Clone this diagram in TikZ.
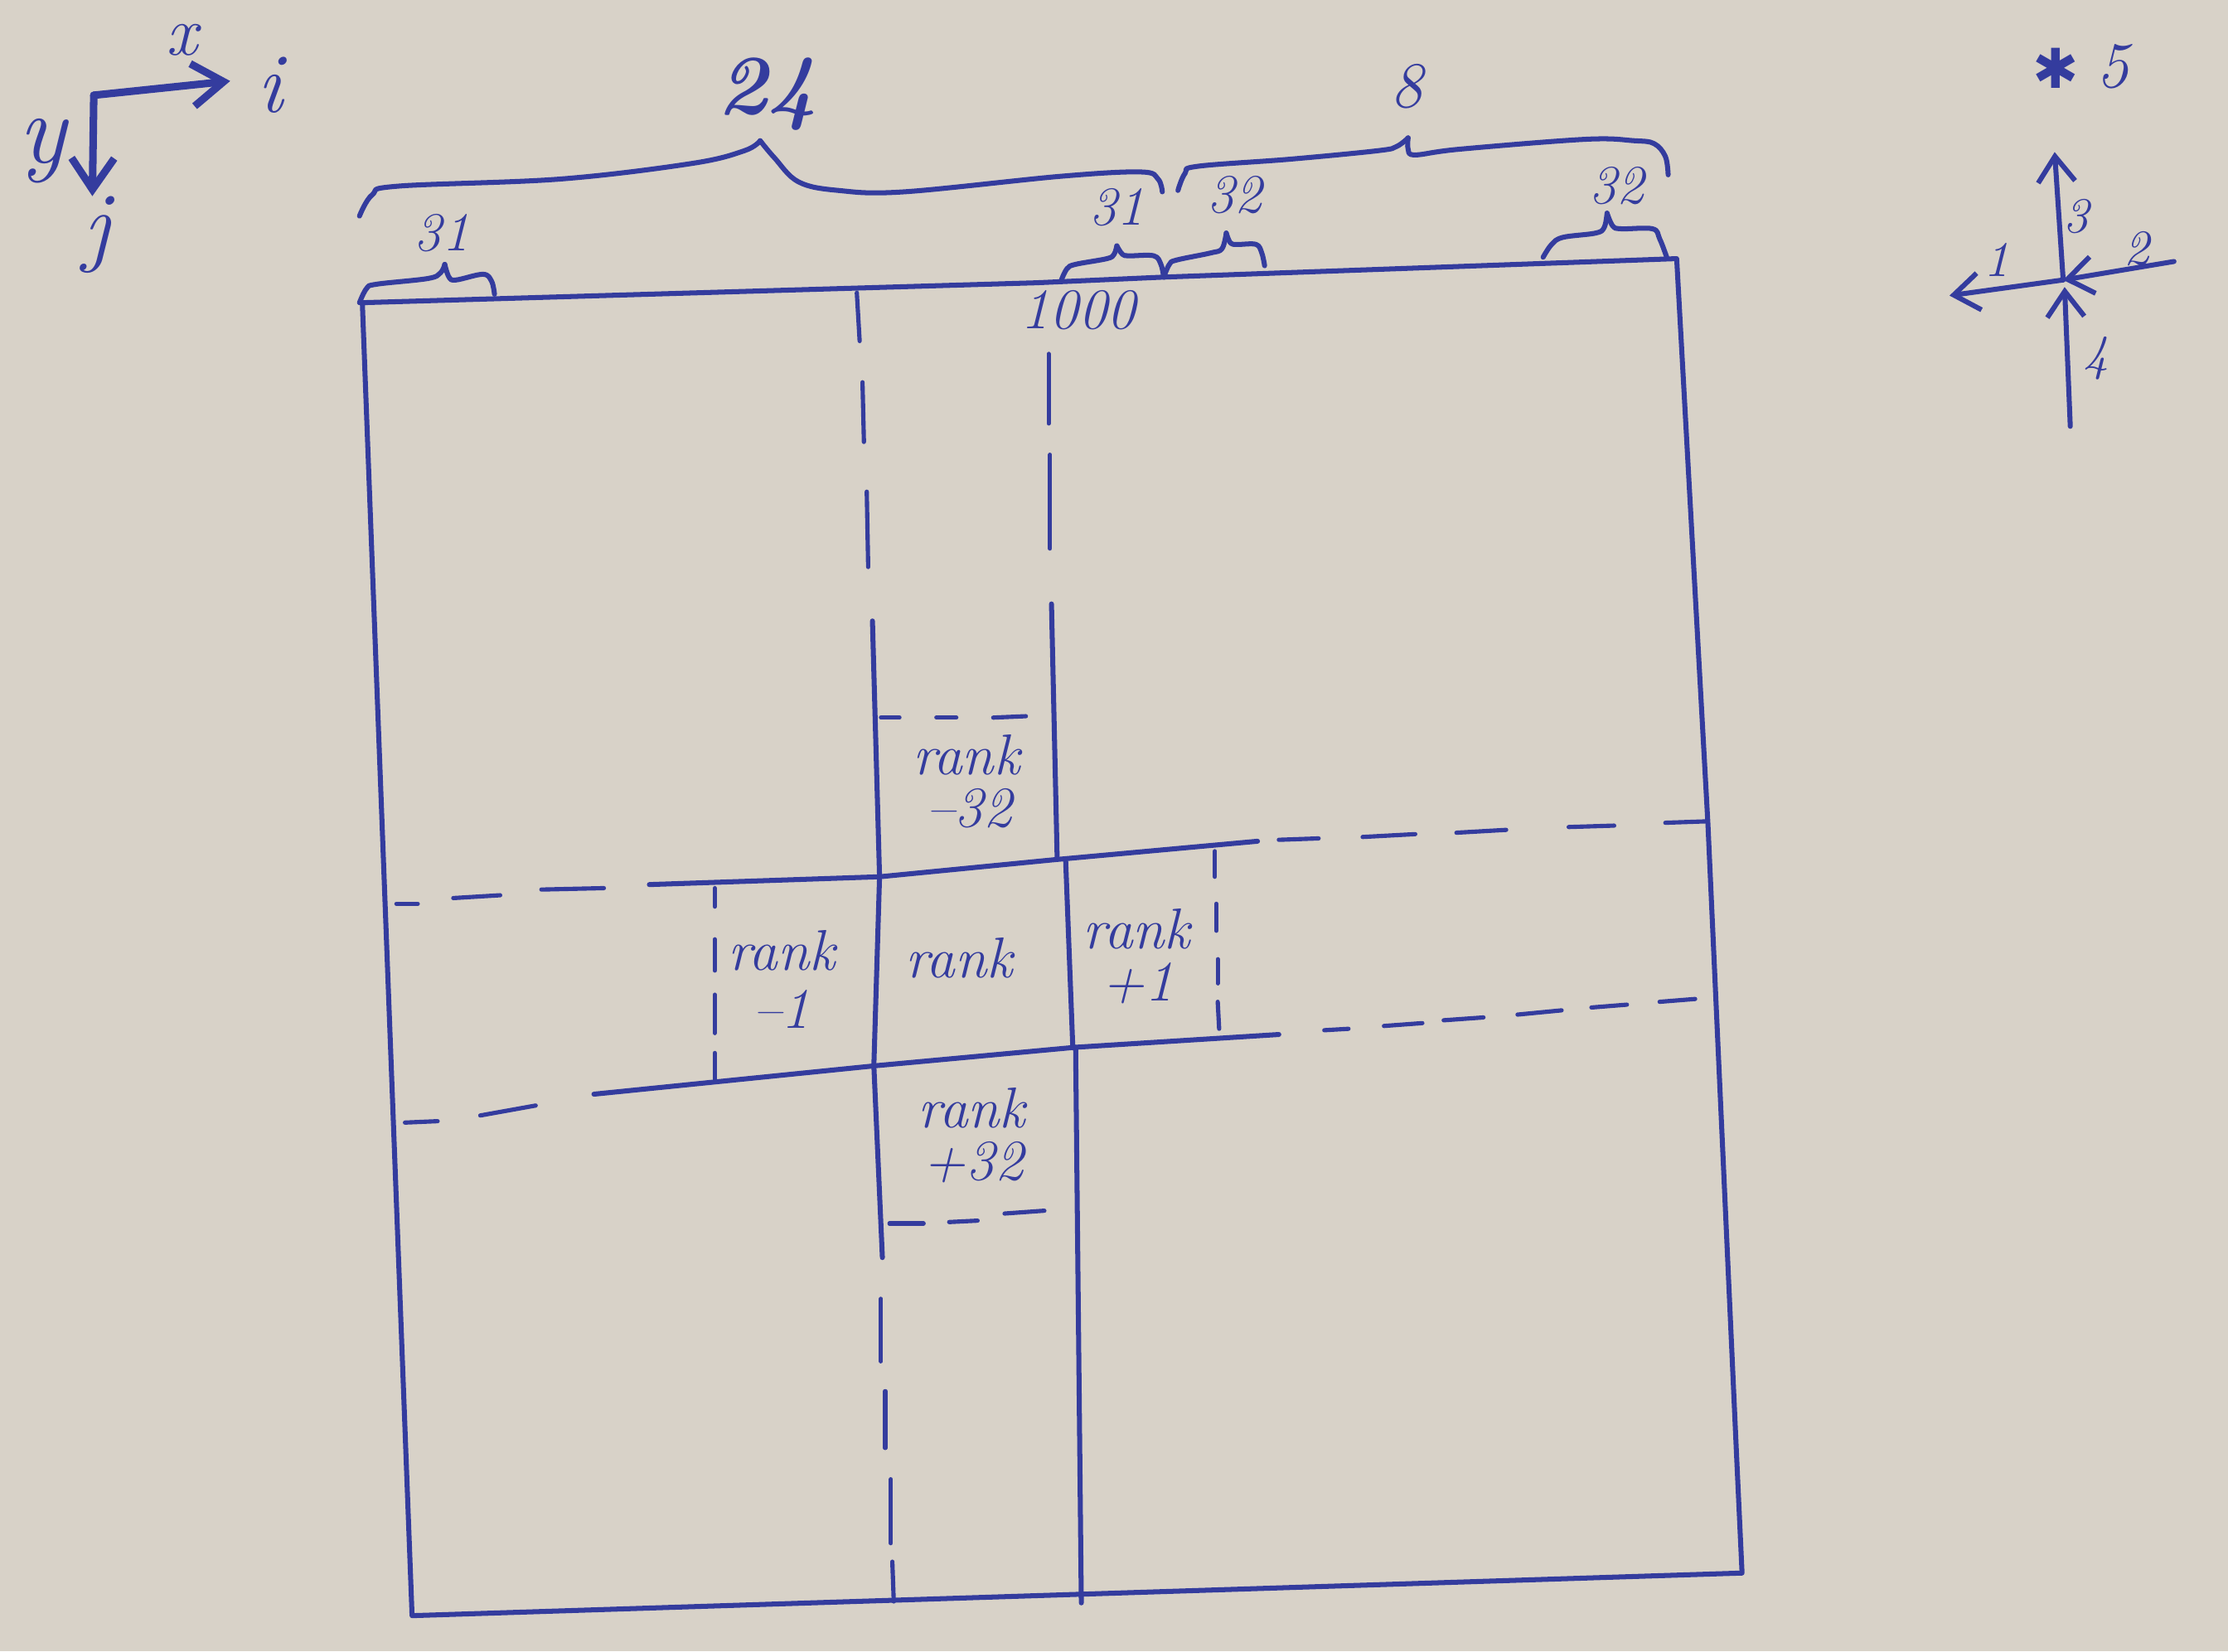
\documentclass[tikz,border=0pt]{standalone}
\usepackage{fontspec}
\newfontfamily\djv{DejaVu Sans}
\usetikzlibrary{arrows.meta}
\definecolor{ink}{RGB}{52,60,158}
\definecolor{paper}{RGB}{216,210,200}
\begin{document}
\begin{tikzpicture}[x=0.01cm,y=-0.01cm,
  pen/.style={draw=ink,line width=1pt,line cap=round,line join=round},
  fine/.style={draw=ink,line width=0.85pt,line cap=round,line join=round},
  axis/.style={draw=ink,line width=1.5pt,line cap=round,line join=round,-{Straight Barb[length=2.2mm,width=3mm,line width=1.5pt]}},
  comp/.style={draw=ink,line width=1pt,line cap=round,-{Straight Barb[length=1.8mm,width=2.6mm,line width=1pt]}},
  lbl/.style={text=ink,inner sep=0pt,font=\itshape},
  ranklbl/.style={text=ink,inner sep=0pt,font=\fontsize{11.5}{12.5}\selectfont\itshape}]
\fill[paper] (0,0) rectangle (1568,1162);
\useasboundingbox (0,0) rectangle (1568,1162);

% outer frame
\draw[pen] (255,213) -- (729,199) -- (819,195) -- (1180,182) -- (1202,580) -- (1222,1021) -- (1226,1107) -- (290,1137) -- cycle;

% left column line
\draw[fine] (603,206) -- (605,240);
\draw[fine] (607,269) -- (608,311);
\draw[fine] (610,346) -- (611,399);
\draw[pen] (614,437) -- (619,617) -- (615,750) -- (621,885);
\draw[fine] (620,914) -- (620,958);
\draw[fine] (623,979) -- (623,1019);
\draw[fine] (627,1041) -- (627,1086);
\draw[fine] (628,1099) -- (629,1127);

% right column line
\draw[fine] (738,249) -- (738,298);
\draw[fine] (739,320) -- (739,386);
\draw[pen] (740,425) -- (744,604);
\draw[pen] (750,606) -- (755,737);
\draw[pen] (757,737) -- (761,1128);

% upper row line
\draw[fine] (279,636) -- (294,636);
\draw[fine] (319,632) -- (352,630);
\draw[fine] (381,626) -- (425,625);
\draw[pen] (457,622.5) -- (619,617) -- (742,605) -- (885,592);
\draw[fine] (900,591) -- (928,590);
\draw[fine] (959,589) -- (996,587);
\draw[fine] (1025,586) -- (1060,584);
\draw[fine] (1104,582) -- (1136,581);
\draw[fine] (1172,579) -- (1201,578);

% lower row line
\draw[fine] (285,790) -- (308,789);
\draw[fine] (338,785) -- (377,778);
\draw[pen] (418,770) -- (616,750) -- (757,737) -- (900,728);
\draw[fine] (932,725) -- (949,724);
\draw[fine] (974,722) -- (1001,720);
\draw[fine] (1016,718) -- (1044,716);
\draw[fine] (1068,714) -- (1099,711);
\draw[fine] (1120,709) -- (1145,707);
\draw[fine] (1168,705) -- (1193,703);

% dashed cell borders
\draw[fine] (620,505) -- (633,505);
\draw[fine] (659,505) -- (673,505);
\draw[fine] (699,505) -- (722,504);
\draw[fine] (503,625) -- (503,638);
\draw[fine] (503,661) -- (503,683);
\draw[fine] (503,700) -- (503,727);
\draw[fine] (503,741) -- (503,760);
\draw[fine] (855,599) -- (855,617);
\draw[fine] (856,636) -- (856,655);
\draw[fine] (857,675) -- (857,692);
\draw[fine] (857,705) -- (858,724);
\draw[fine] (626,861) -- (650,861);
\draw[fine] (668,860) -- (688,859);
\draw[fine] (707,854) -- (735,852);

% cell labels
\node[ranklbl] (rm32a) at (680,531) {rank};
\node[ranklbl] (rm32b) at (682,569) {–32};
\node[ranklbl] (rm1a) at (550,669) {rank};
\node[ranklbl] (rm1b) at (550,710) {–1};
\node[ranklbl] (r0) at (675,674) {rank};
\node[ranklbl] (rp1a) at (800,654) {rank};
\node[ranklbl] (rp1b) at (801,692) {+1};
\node[ranklbl] (rp32a) at (684,780) {rank};
\node[ranklbl] (rp32b) at (685,818) {+32};

% braces
\draw[pen] plot[smooth,tension=0.6] coordinates {(253,152) (262,137) (280,131) (394,126) (487,115) (524,106) (535,99)};
\draw[pen] plot[smooth,tension=0.6] coordinates {(535,99) (545,111) (562,128) (590,134) (636,135) (747,124) (803,121) (815,126) (818,135)};
\draw[pen] plot[smooth,tension=0.6] coordinates {(829,134) (834,122) (843,117) (908,112) (970,106) (983,103) (991,97)};
\draw[pen] plot[smooth,tension=0.6] coordinates {(991,97) (991,105) (996,109) (1027,105) (1116,98) (1150,99) (1164,101) (1172,110) (1174,123)};
\draw[pen] plot[smooth,tension=0.6] coordinates {(253,213) (258,203) (265,200) (301,196) (310,192) (313,186)};
\draw[pen] plot[smooth,tension=0.6] coordinates {(313,186) (316,195) (321,197) (340,193) (346,198) (348,207)};
\draw[pen] plot[smooth,tension=0.6] coordinates {(747,197) (751,189) (757,186) (779,182) (784,179) (786,173)};
\draw[pen] plot[smooth,tension=0.6] coordinates {(786,173) (790,179) (795,180) (812,180) (817,186) (819,195)};
\draw[pen] plot[smooth,tension=0.6] coordinates {(819,195) (823,186) (828,183) (852,178) (860,175) (863,164)};
\draw[pen] plot[smooth,tension=0.6] coordinates {(863,164) (866,171) (871,172) (884,172) (888,178) (890,187)};
\draw[pen] plot[smooth,tension=0.6] coordinates {(1086,181) (1092,172) (1100,167) (1123,164) (1129,160) (1131,150)};
\draw[pen] plot[smooth,tension=0.6] coordinates {(1131,150) (1135,159) (1141,161) (1163,161) (1168,168) (1173,181)};

% brace labels
\node[lbl,font=\fontsize{17}{17}\selectfont\itshape\bfseries] (n24) at (540,66) {24};
\node[lbl,font=\fontsize{13}{13}\selectfont\itshape] (n8) at (990,61) {8};
\node[lbl,font=\fontsize{11}{11}\selectfont\itshape] (n31a) at (311,164) {31};
\node[lbl,font=\fontsize{11}{11}\selectfont\itshape] (n31b) at (786,146) {31};
\node[lbl,font=\fontsize{11}{11}\selectfont\itshape] (n32a) at (869,137) {32};
\node[lbl,font=\fontsize{11}{11}\selectfont\itshape] (n32b) at (1138,131) {32};
\node[lbl,font=\fontsize{11.5}{11.5}\selectfont\itshape] (n1000) at (759,218) {1000};

% axes
\coordinate (O) at (66,67);
\coordinate (xt) at (162,57);
\coordinate (yt) at (65,138);
\draw[axis] (O) -- (xt);
\draw[axis] (O) -- (yt);
\node[lbl,font=\fontsize{14}{14}\selectfont\itshape] (lx) at (128,28) {x};
\node[lbl,font=\fontsize{17}{17}\selectfont\itshape] (li) at (190,60) {i};
\node[lbl,font=\fontsize{20}{20}\selectfont\itshape] (ly) at (30,106) {y};
\node[lbl,font=\fontsize{18}{18}\selectfont\itshape] (lj) at (68,165) {j};

% compass
\coordinate (C) at (1452,197);
\coordinate (c3) at (1446,107);
\coordinate (c1) at (1372,208);
\coordinate (c2) at (1530,184);
\coordinate (c4) at (1457,300);
\coordinate (c4t) at (1453,202);
\draw[comp] (C) -- (c3);
\draw[comp] (C) -- (c1);
\draw[comp] (c2) -- (C);
\draw[comp] (c4) -- (c4t);
\node[lbl,font=\fontsize{10}{10}\selectfont\itshape] (k3) at (1461,152) {3};
\node[lbl,font=\fontsize{10}{10}\selectfont\itshape] (k1) at (1405,183) {1};
\node[lbl,font=\fontsize{10}{10}\selectfont\itshape] (k2) at (1504,175) {2};
\node[lbl,font=\fontsize{10}{10}\selectfont\itshape] (k4) at (1475,252) {4};
\node[text=ink,inner sep=0pt,font=\djv\bfseries\fontsize{11}{11}\selectfont] (star) at (1447,48) {✱};
\node[lbl,font=\fontsize{13}{13}\selectfont\itshape] (k5) at (1487,47) {5};
\end{tikzpicture}
\end{document}
